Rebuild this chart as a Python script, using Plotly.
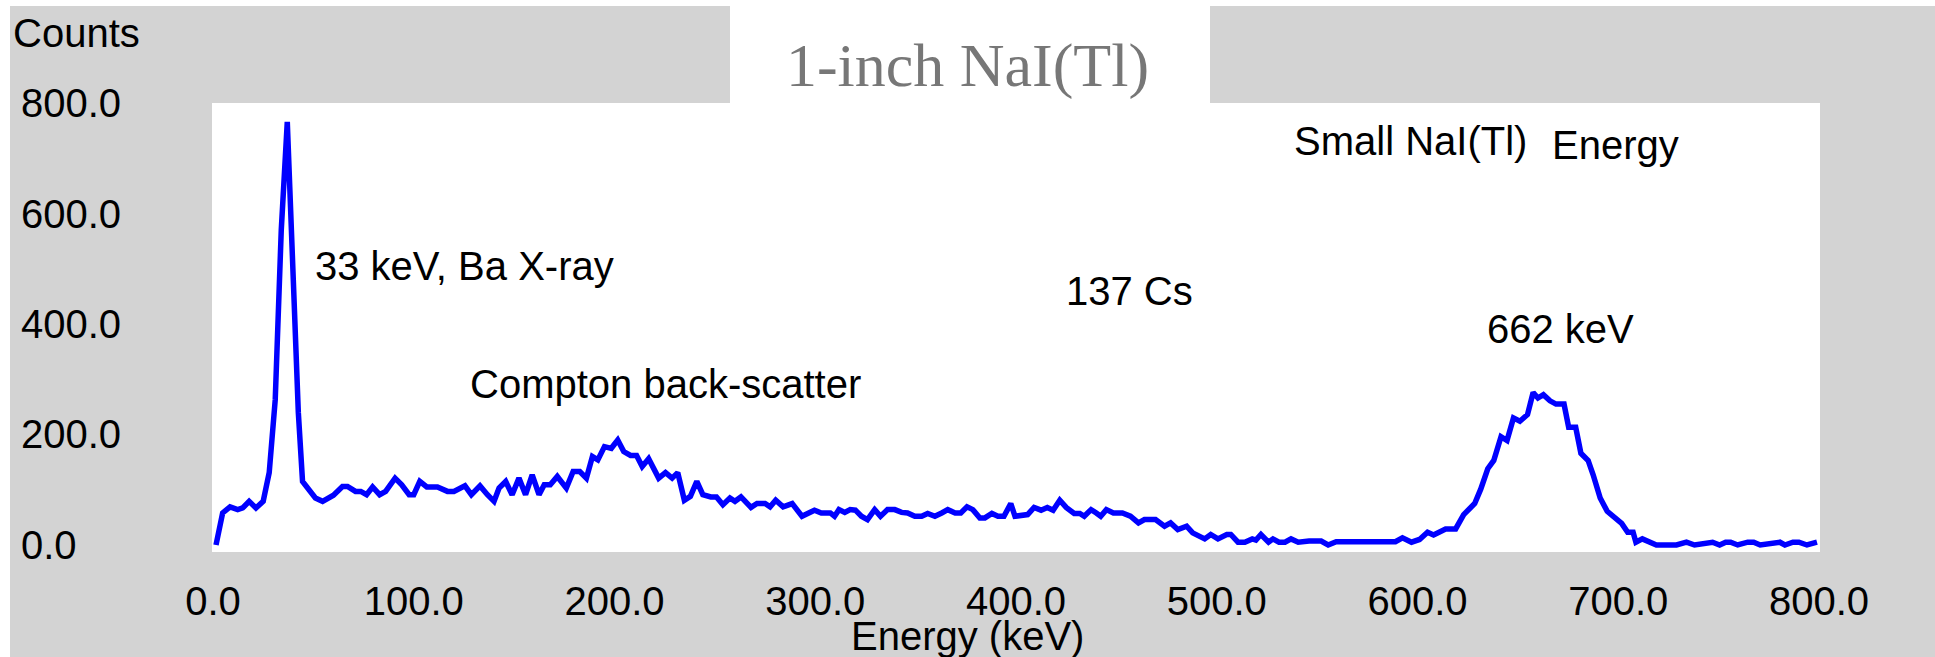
import plotly.graph_objects as go

# ---------------- data ----------------
energy_kev = [
    1.5, 4.8, 8.5, 12.3, 14.8, 18, 21.4, 25, 28, 31,
    34, 37, 40, 42.5, 44.6, 48.8, 51, 54.6, 60, 64.5,
    67, 71, 73.6, 76.5, 79.5, 83, 86, 90.7, 94, 97.7,
    100, 103, 106.5, 111.8, 116.8, 120, 125.5, 128.7, 133, 136.7,
    140, 142.5, 145.8, 149, 152.4, 155.7, 159, 162.4, 165, 168,
    171.5, 176, 179.4, 182.7, 186, 189, 191.7, 195, 198.4, 201.6,
    204.6, 208, 211, 213.8, 217, 222, 225.4, 228.7, 231.5, 234.8,
    237.8, 241, 244, 248, 250.8, 254, 257.5, 260, 263, 268,
    271, 275, 277.5, 280.3, 284, 288.5, 293.4, 299.6, 303, 307.5,
    309.6, 311.8, 314.7, 317.4, 320, 323, 326, 329.6, 332.5, 336,
    339.6, 343, 346, 349.6, 353, 356, 359.6, 363, 366, 369.7,
    372.5, 375.6, 378.5, 382, 384.5, 388, 391, 394, 397.4, 399.5,
    403, 405.8, 409, 412.5, 415.6, 418.5, 421.8, 425, 429, 431.8,
    434, 437.4, 440, 442.2, 445, 448.5, 453, 457, 461, 464,
    469.5, 474, 477, 480.6, 485, 488, 494, 497, 500.6, 505,
    507, 510.6, 514, 517.7, 519.5, 522, 525.8, 528, 531, 534,
    537, 540.6, 546, 552, 555.5, 559.5, 589, 592.5, 597, 601,
    605, 608, 614, 619, 623, 628.5, 631.5, 635, 638, 641.6,
    644.6, 647.8, 651, 654.8, 657.6, 660, 662.7, 666, 669, 673,
    675.3, 678.8, 681.4, 685, 687.5, 691, 694.5, 698.6, 701.7, 704.7,
    707.4, 708.8, 712, 719, 725, 729, 734, 738, 747, 750.5,
    753.5, 756, 759.5, 764.5, 767.5, 770.7, 780.5, 783, 787, 790,
    794, 799,
]
counts = [
    0, 58, 69, 64, 67, 79, 67, 79, 131, 263,
    570, 766, 480, 240, 115, 95, 85, 79, 90, 106,
    106, 97, 97, 91, 105, 91, 97, 121, 109, 91,
    91, 115, 105, 105, 97, 97, 107, 91, 107, 91,
    79, 103, 115, 91, 121, 91, 127, 91, 109, 109,
    124, 103, 133, 133, 121, 160, 154, 178, 175, 190,
    169, 162, 162, 142, 156, 121, 131, 121, 131, 81,
    88, 115, 91, 87, 87, 73, 85, 79, 87, 68,
    75, 75, 69, 81, 69, 75, 52, 63, 58, 58,
    52, 64, 59, 64, 63, 52, 46, 64, 52, 64,
    64, 59, 58, 52, 52, 57, 52, 58, 64, 58,
    58, 69, 64, 49, 49, 57, 52, 52, 75, 52,
    55, 55, 68, 63, 68, 63, 81, 68, 57, 57,
    52, 64, 58, 52, 64, 58, 58, 52, 40, 46,
    46, 34, 40, 28, 34, 22, 11, 19, 11, 19,
    19, 5, 5, 11, 9, 19, 5, 11, 5, 5,
    11, 5, 7, 7, 0, 6, 6, 13, 5, 10,
    23, 18, 29, 29, 55, 75, 101, 138, 153, 196,
    189, 230, 224, 236, 276, 266, 272, 261, 255, 255,
    213, 213, 166, 153, 127, 85, 61, 49, 39, 23,
    23, 5, 11, 0, 0, 0, 5, 0, 5, 0,
    5, 5, 0, 5, 5, 0, 5, 0, 5, 5,
    0, 5,
]
x_ticks = [0, 100, 200, 300, 400, 500, 600, 700, 800]
y_ticks = [0, 200, 400, 600, 800]

title_text = "1-inch NaI(Tl)"
x_title = "Energy (keV)"
y_title = "Counts"
labels = ["33 keV, Ba X-ray", "Compton back-scatter", "137 Cs",
          "Small NaI(Tl)", "Energy", "662 keV"]

# ---------------- layout geometry (pixels) ----------------
W, H = 1935, 657
LM = 20             # paper left edge
PL, PR = 212, 1820  # plot area left / right
PT, PB = 103, 552   # plot area top / bottom
GRAY = "#d3d3d3"
FONT = "Liberation Sans, Arial, sans-serif"


def fx(p):
    return (p - LM) / (PR - LM)


def fy(p):
    return (PB - p) / (PB - PT)


YR = [-12.7, 800]

fig = go.Figure()
fig.add_trace(go.Scatter(x=energy_kev, y=counts, mode="lines",
                         line=dict(color="#0000ff", width=5.5),
                         showlegend=False))
fig.add_trace(go.Scatter(x=energy_kev, y=counts, yaxis="y2", mode="lines",
                         line=dict(color="rgba(0,0,0,0)", width=0),
                         opacity=0, showlegend=False, hoverinfo="skip"))

shapes = [
    dict(type="rect", xref="paper", yref="paper", layer="below",
         x0=fx(10), x1=fx(W + 5), y0=fy(6), y1=fy(H + 5),
         fillcolor=GRAY, line=dict(width=0)),
    dict(type="rect", xref="paper", yref="paper", layer="below",
         x0=fx(PL), x1=fx(PR), y0=fy(PB), y1=fy(PT),
         fillcolor="white", line=dict(width=0)),
    dict(type="rect", xref="paper", yref="paper", layer="below",
         x0=fx(730), x1=fx(1210), y0=fy(PT + 1), y1=fy(6),
         fillcolor="white", line=dict(width=0)),
]

txt_font = dict(family=FONT, size=40, color="black")
ann_pos = [(313, 266), (468, 384), (1064, 291), (1292, 141), (1550, 145), (1485, 329)]
annotations = []
for t, (ax_, ay_) in zip(labels, ann_pos):
    annotations.append(dict(text=t, xref="paper", yref="paper", x=fx(ax_), y=fy(ay_),
                            xanchor="left", yanchor="middle", showarrow=False,
                            font=txt_font))
annotations.append(dict(text=y_title, xref="paper", yref="paper", x=fx(11), y=fy(33),
                        xanchor="left", yanchor="middle", showarrow=False, font=txt_font))
annotations.append(dict(text=x_title, xref="paper", yref="paper", x=fx(968), y=fy(636),
                        xanchor="center", yanchor="middle", showarrow=False, font=txt_font))

fig.update_layout(
    width=W, height=H,
    margin=dict(l=LM, r=W - PR, t=PT, b=H - PB, pad=0, autoexpand=False),
    paper_bgcolor="white", plot_bgcolor="rgba(0,0,0,0)",
    title=dict(text=title_text, x=0.5, xref="container", xanchor="center",
               y=1 - 64 / H, yref="container", yanchor="middle",
               font=dict(family="Liberation Serif, Times New Roman, serif",
                         size=62, color="#777777")),
    xaxis=dict(domain=[(PL - LM) / (PR - LM), 1], range=[-0.5, 800.5],
               tickvals=x_ticks, tickformat=".1f", showgrid=False,
               zeroline=False, showline=False, ticks="", automargin=False,
               tickfont=dict(family=FONT, size=40, color="black"),
               ticklabelstandoff=22),
    yaxis=dict(range=YR, showticklabels=False, showgrid=False,
               zeroline=False, showline=False, ticks="", automargin=False),
    yaxis2=dict(overlaying="y", anchor="free", position=0, side="right",
                range=YR, tickvals=y_ticks, tickformat=".1f", automargin=False,
                showgrid=False, zeroline=False, showline=False, ticks="",
                tickfont=dict(family=FONT, size=40, color="black")),
    shapes=shapes, annotations=annotations, showlegend=False,
)

fig.write_html("out.html")
